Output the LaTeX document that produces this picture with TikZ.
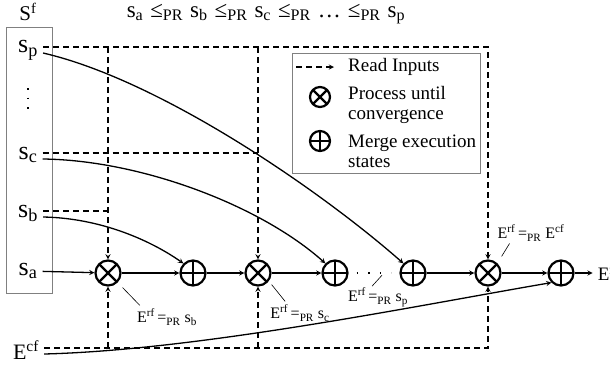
\documentclass[tikz,border=0pt]{standalone}
\usepackage{fontspec}
\setmainfont{Liberation Serif}
\usetikzlibrary{arrows,positioning}
\tikzset{
    proc/.style={circle,draw,line width=2.2pt,minimum size=25pt,inner sep=0pt,
        path picture={\draw[line width=2.2pt]
            (path picture bounding box.north west) -- (path picture bounding box.south east)
            (path picture bounding box.north east) -- (path picture bounding box.south west);}},
    merge/.style={circle,draw,line width=2.2pt,minimum size=25pt,inner sep=0pt,
        path picture={\draw[line width=2.2pt]
            (path picture bounding box.north) -- (path picture bounding box.south)
            (path picture bounding box.west) -- (path picture bounding box.east);}},
    setlabel/.style={font=\fontsize{26}{26}\selectfont,inner ysep=0pt,inner xsep=5pt},
    cond/.style={font=\fontsize{16}{16}\selectfont,inner sep=0pt},
    legtext/.style={font=\fontsize{19}{20}\selectfont,inner sep=0pt,align=left,anchor=west},
    flow/.style={->,line width=1.3pt,>=stealth},
    read/.style={->,line width=1.3pt,>=stealth,dash pattern=on 6pt off 4pt},
    readline/.style={line width=1.3pt,dash pattern=on 6pt off 4pt},
    leader/.style={line width=0.6pt}
}

\begin{document}
\begin{tikzpicture}[x=1pt,y=-1pt,node distance=50pt]
    \useasboundingbox (0,0) rectangle (610,368);

    % states and their order
    \draw[gray] (6,27) rectangle (52,293);
    \node (Sf) at (28,12) {\fontsize{21}{21}\selectfont S\textsuperscript{f}};
    \node[font={\fontsize{23}{23}\selectfont\spaceskip=7pt}] (order) at (266,14)
        {s\textsubscript{a} ≤\textsubscript{PR} s\textsubscript{b} ≤\textsubscript{PR} s\textsubscript{c} ≤\textsubscript{PR} … ≤\textsubscript{PR} s\textsubscript{p}};
    \node[setlabel] (sp) at (28,50) {s\textsubscript{p}};
    \node[setlabel] (sc) at (28,155) {s\textsubscript{c}};
    \node[setlabel] (sb) at (28,213) {s\textsubscript{b}};
    \node[setlabel] (sa) at (28,271) {s\textsubscript{a}};
    \node[setlabel,font=\fontsize{22}{22}\selectfont] (Ecf) at (26,350) {E\textsuperscript{cf}};
    \draw[line width=1.6pt,dash pattern=on 1.6pt off 8pt] (28,88) -- (28,112);

    % processing chain
    \node[proc]  (p1) at (108,273) {};
    \node[merge] (m1) [right=57.8pt of p1] {};
    \node[proc]  (p2) [right=37.8pt of m1] {};
    \node[merge] (m2) [right=49.8pt of p2] {};
    \node[merge] (m3) [right=50.8pt of m2] {};
    \node[proc]  (p3) [right=47.8pt of m3] {};
    \node[merge] (m4) [right=45.8pt of p3] {};
    \node[setlabel,font=\fontsize{19}{19}\selectfont,anchor=west] (Erf) [right=18pt of m4] {E\textsuperscript{rf}};

    \draw[flow] (sa) -- (p1);
    \draw[flow] (p1) -- (m1);
    \draw[flow] (m1) -- (p2);
    \draw[flow] (p2) -- (m2);
    \draw[line width=1.6pt,dash pattern=on 1.6pt off 10pt] ([xshift=8pt]m2.east) -- ([xshift=-8pt]m3.west);
    \draw[flow] (m3) -- (p3);
    \draw[flow] (p3) -- (m4);
    \draw[flow] (m4) -- (Erf);

    % read inputs
    \coordinate (spout) at ([yshift=3pt]sp.east);
    \coordinate (scout) at ([yshift=2pt]sc.east);
    \coordinate (sbout) at ([yshift=2pt]sb.east);
    \coordinate (ecfout) at ([yshift=2pt]Ecf.east);
    \draw[read] (spout) -| (p3);
    \draw[read] (p1 |- spout) -- (p1);
    \draw[read] (p2 |- spout) -- (p2);
    \draw[readline] (scout) -- (p2 |- scout);
    \draw[readline] (sbout) -- (p1 |- sbout);
    \draw[read] (ecfout) -| (p3);
    \draw[read] (p1 |- ecfout) -- (p1);
    \draw[read] (p2 |- ecfout) -- (p2);

    % states merged in
    \draw[flow] ([yshift=-4pt]sb.east) .. controls (100,218) and (150,240) .. (m1.north west);
    \draw[flow] ([yshift=-4pt]sc.east) .. controls (140,160) and (260,205) .. (m2.north west);
    \draw[flow] ([yshift=-3pt]sp.east) .. controls (160,80) and (320,190) .. (m3.north west);
    \draw[flow] ([yshift=-4pt]Ecf.east) .. controls (200,350) and (420,305) .. (m4.south west);

    % conditions
    \node[cond] (c1) at (167,317) {E\textsuperscript{rf}\,=\textsubscript{PR} s\textsubscript{b}};
    \node[cond] (c2) at (300,313) {E\textsuperscript{rf}\,=\textsubscript{PR} s\textsubscript{c}};
    \node[cond] (c3) at (378,297) {E\textsuperscript{rf}\,=\textsubscript{PR} s\textsubscript{p}};
    \node[cond] (c4) at (531,233) {E\textsuperscript{rf}\,=\textsubscript{PR} E\textsuperscript{cf}};
    \draw[leader] ([xshift=5pt,yshift=-5pt]p1.south east) -- ([xshift=3pt,yshift=3pt]c1.north west);
    \draw[leader] ([xshift=4pt,yshift=-2pt]p2.south east) -- ([xshift=15pt,yshift=3pt]c2.north west);
    \draw[leader] ([xshift=4pt,yshift=12pt]c3.north) -- ([xshift=-6pt,yshift=1pt]c3.north);
    \draw[leader] ([xshift=12pt,yshift=-2pt]c4.south west) -- ([xshift=4pt,yshift=7pt]p3.north east);

    % legend
    \draw[gray] (292,53) rectangle (480,173);
    \node[legtext] (lread) at (348,67) {Read Inputs};
    \node[proc,minimum size=20pt]  (lproc) at (320,97) {};
    \node[legtext] (lproctext) at (348,105) {Process until\\convergence};
    \node[merge,minimum size=20pt] (lmerge) at (320,141) {};
    \node[legtext] (lmergetext) at (348,151) {Merge execution\\states};
    \draw[read] ([xshift=-52pt]lread.west) -- ([xshift=-14pt]lread.west);
\end{tikzpicture}
\end{document}
